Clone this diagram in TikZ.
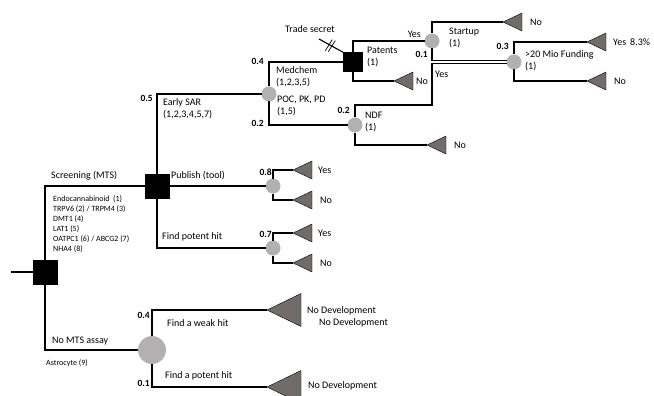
\documentclass[tikz,border=0pt]{standalone}
\usepackage{fontspec}
\setmainfont{Carlito}
\usetikzlibrary{positioning,shapes.geometric,calc}
\definecolor{chancegray}{RGB}{178,176,176}
\definecolor{leafgray}{RGB}{112,108,108}
\tikzset{
  decision/.style={draw, fill=black, minimum size=24pt, inner sep=0pt, outer sep=0pt},
  chance/.style={circle, fill=chancegray, minimum size=15pt, inner sep=0pt, outer sep=0pt},
  leaf/.style={isosceles triangle, isosceles triangle stretches, shape border rotate=180,
    draw=black, fill=leafgray, minimum width=18pt, minimum height=19pt,
    inner sep=0pt, outer sep=0pt, anchor=apex},
  bigleaf/.style={leaf, minimum width=33pt, minimum height=34pt},
  lbl/.style={font=\fontsize{10}{12}\selectfont, inner sep=0pt, align=left},
  listtext/.style={font=\fontsize{8}{9.9}\selectfont, inner sep=0pt, align=left},
  prob/.style={font=\fontsize{9.5}{11}\selectfont\bfseries, inner sep=0pt},
  branch/.style={line width=1.1pt},
}

\begin{document}
\begin{tikzpicture}[x=1pt, y=-1pt]
  \useasboundingbox (0,0) rectangle (654,396);

  % decisions and chances
  \node[decision] (root) at (45,272) {};
  \node[decision] (scr) at (157,186) {};
  \node[decision, minimum size=19pt] (pat) at (353,62) {};
  \node[chance] (sar) at (269,94) {};
  \node[chance] (ndf) at (355,125) {};
  \node[chance] (startup) at (432,41) {};
  \node[chance] (fund) at (514,62) {};
  \node[chance] (pub) at (273,186) {};
  \node[chance] (hit) at (273,248) {};
  \node[chance, minimum size=28pt] (nomts) at (152,350) {};

  % end points
  \node[leaf] (tA) at (394,81) {};
  \node[leaf] (tB) at (503,22) {};
  \node[leaf] (tC) at (427,145) {};
  \node[leaf] (tD) at (587,42) {};
  \node[leaf] (tE) at (587,81) {};
  \node[leaf] (tF) at (293,170) {};
  \node[leaf] (tG) at (293,200) {};
  \node[leaf] (tH) at (293,233) {};
  \node[leaf] (tI) at (293,263) {};
  \node[bigleaf] (tJ) at (267,310) {};
  \node[bigleaf] (tK) at (267,387) {};

  \coordinate (stub) at (11,272);
  \coordinate (secret) at (319,39);
  \coordinate (ndfturn) at (432,105);

  % branches
  \draw[branch] (stub) -- (root);
  \draw[branch] (root) |- (scr);
  \draw[branch] (root) |- (nomts);
  \draw[branch] (scr) |- (sar);
  \draw[branch] (scr) -- (pub);
  \draw[branch] (scr) |- (hit);
  \draw[branch] (sar) |- (pat);
  \draw[branch] (sar) |- (ndf);
  \draw[branch] (pat) |- (startup);
  \draw[branch] (pat) |- (tA.apex);
  \draw[branch] (secret) -- (pat.north west);
  \draw[branch] (startup) |- (tB.apex);
  \draw[branch] (startup) |- ([yshift=1.8pt]fund.west);
  \draw[branch] (ndf) |- (ndfturn) |- ([yshift=-1.8pt]fund.west);
  \draw[branch] (ndf) |- (tC.apex);
  \draw[branch] (fund) |- (tD.apex);
  \draw[branch] (fund) |- (tE.apex);
  \draw[branch] (pub) |- (tF.apex);
  \draw[branch] (pub) |- (tG.apex);
  \draw[branch] (hit) |- (tH.apex);
  \draw[branch] (hit) |- (tI.apex);
  \draw[branch] (nomts) |- (tJ.apex);
  \draw[branch] (nomts) |- (tK.apex);

  % cut marks on the trade secret branch
  \path (secret) -- (pat.north west) coordinate[pos=.42] (cut);
  \draw[line width=0.7pt] (cut) +(-4,6) -- +(3,-5) (cut) +(-1,7) -- +(6,-4);

  % labels
  \node[lbl, anchor=west] (lscr) at (51,176) {Screening (MTS)};
  \node[listtext, anchor=west] (ltargets) at (53,224) {Endocannabinoid\ \ (1)\\TRPV6 (2) / TRPM4 (3)\\DMT1 (4)\\LAT1 (5)\\OATPC1 (6) / ABCG2 (7)\\NHA4 (8)};
  \node[lbl, anchor=west] (lpub) at (171,176) {Publish (tool)};
  \node[lbl, anchor=west] (lhit) at (162,237) {Find potent hit};
  \node[lbl, anchor=west] (lsar) at (163,109) {Early SAR\\(1,2,3,4,5,7)};
  \node[lbl, anchor=west] (lmed) at (276,77) {Medchem\\(1,2,3,5)};
  \node[lbl, anchor=west] (lpoc) at (277,106) {POC, PK, PD\\(1,5)};
  \node[lbl, anchor=west] (lpat) at (367,57) {Patents\\(1)};
  \node[lbl, anchor=west] (lstart) at (449,38) {Startup\\(1)};
  \node[lbl, anchor=west] (lfund) at (525,61) {>20 Mio Funding\\(1)};
  \node[lbl, anchor=west] (lndf) at (365,122) {NDF\\(1)};
  \node[lbl] (lsecret) at (310,29) {Trade secret};
  \node[lbl, anchor=east] (lyesA) at (421,34) {Yes};
  \node[lbl, anchor=west] (lyesB) at (435,74) {Yes};
  \node[lbl, anchor=west] (lnomts) at (52,341) {No MTS assay};
  \node[listtext, anchor=west] (lastro) at (46,363) {Astrocyte (9)};
  \node[lbl, anchor=west] (lweak) at (167,323) {Find a weak hit};
  \node[lbl, anchor=west] (lpotent) at (165,376) {Find a potent hit};

  % probabilities
  \node[prob, anchor=east] (p1) at (153,98) {0.5};
  \node[prob, anchor=east] (p2) at (264,61) {0.4};
  \node[prob, anchor=east] (p3) at (264,123) {0.2};
  \node[prob, anchor=east] (p4) at (350,110) {0.2};
  \node[prob, anchor=east] (p5) at (428,54) {0.1};
  \node[prob, anchor=east] (p6) at (509,46) {0.3};
  \node[prob, anchor=east] (p7) at (272,172) {0.8};
  \node[prob, anchor=east] (p8) at (272,234) {0.7};
  \node[prob, anchor=east] (p9) at (150,315) {0.4};
  \node[prob, anchor=east] (p10) at (150,383) {0.1};

  % outcomes
  \node[lbl, right=3pt of tA.lower side] (oA) {No};
  \node[lbl, right=8pt of tB.lower side] (oB) {No};
  \node[lbl, right=8pt of tC.lower side] (oC) {No};
  \node[lbl, right=7pt of tD.lower side] (oD) {Yes\hspace{4pt}8.3\%};
  \node[lbl, right=8pt of tE.lower side] (oE) {No};
  \node[lbl, right=6pt of tF.lower side] (oF) {Yes};
  \node[lbl, right=8pt of tG.lower side] (oG) {No};
  \node[lbl, right=6pt of tH.lower side] (oH) {Yes};
  \node[lbl, right=8pt of tI.lower side] (oI) {No};
  \node[lbl, anchor=west] (oJ) at (307,311) {No Development};
  \node[lbl, anchor=west] (oJJ) at (319,323) {No Development};
  \node[lbl, anchor=west] (oK) at (308,386) {No Development};
\end{tikzpicture}
\end{document}
